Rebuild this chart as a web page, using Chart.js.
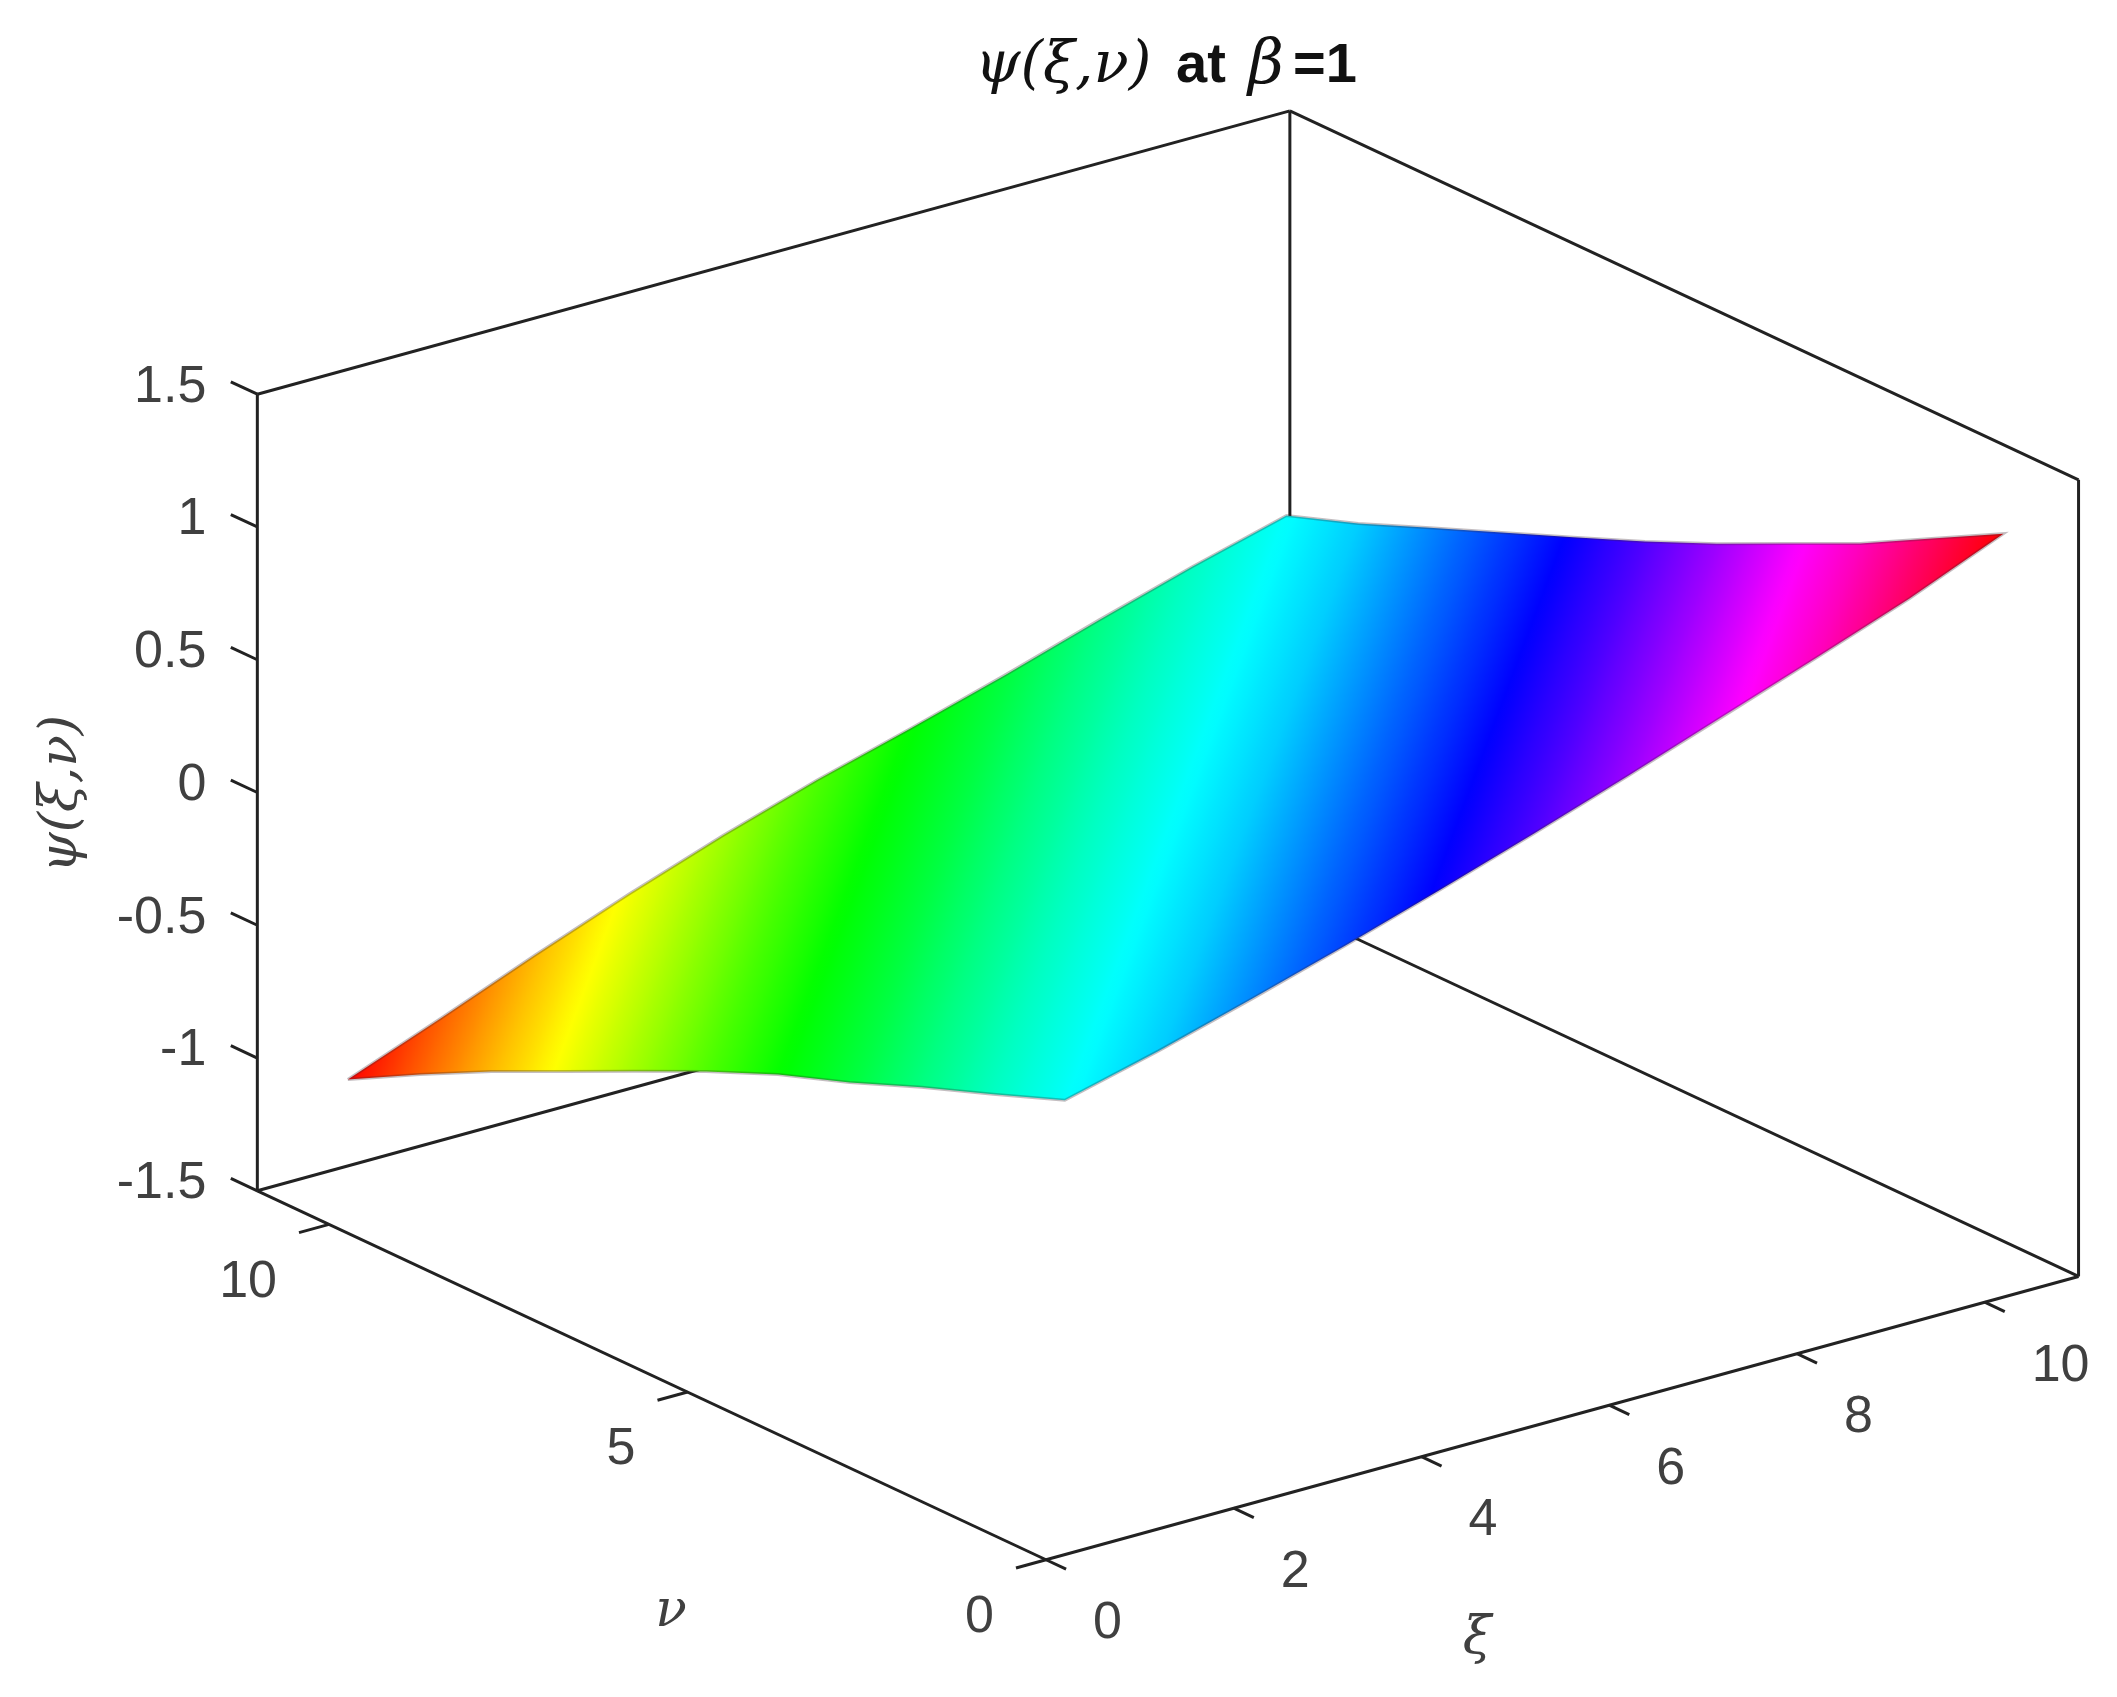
<!DOCTYPE html>
<html><head><meta charset="utf-8">
<script src="https://cdn.jsdelivr.net/npm/chart.js@4"></script>
<style>html,body{margin:0;padding:0;background:#fff}canvas{display:block}</style>
</head><body><canvas id="c" width="2117" height="1697"></canvas>
<script>
// ---- data ----
const nuSamples = [10, 9, 8, 7, 6, 5, 4, 3, 2, 1, 0];
const xiSamples = [0.2, 1.2, 2.2, 3.2, 4.2, 5.2, 6.2, 7.2, 8.2, 9.2, 10.2];
// psi along the four borders of the surface
const psiNearXi = [-0.974, -0.829, -0.691, -0.565, -0.438, -0.312, -0.197, -0.101, 0.007, 0.107, 0.211]; // xi = 0.2, by nuSamples
const psiFarXi = [0.180, 0.276, 0.387, 0.495, 0.604, 0.714, 0.832, 0.959, 1.085, 1.230, 1.375];          // xi = 10.2, by nuSamples
const psiHighNu = [-0.974, -0.838, -0.698, -0.565, -0.442, -0.331, -0.233, -0.130, -0.020, 0.085, 0.180]; // nu = 10, by xiSamples
const psiLowNu = [0.211, 0.300, 0.400, 0.505, 0.616, 0.731, 0.850, 0.975, 1.100, 1.228, 1.375];          // nu = 0, by xiSamples
const xiTicks = [0, 2, 4, 6, 8, 10];
const nuTicks = [0, 5, 10];
const psiTicks = [-1.5, -1, -0.5, 0, 0.5, 1, 1.5];
const xiRange = [0, 11];
const nuRange = [0, 11];
const psiRange = [-1.5, 1.5];

// ---- view of the 3-D box (orthographic) ----
const view = {ox: 1046, oy: 1561, xiDx: 94, xiDy: -25.8, nuDx: -71.8, nuDy: -33.6, psiDy: -266};
function project(xi, nu, psi) {
  return {x: view.ox + xi * view.xiDx + nu * view.nuDx,
          y: view.oy + xi * view.xiDy + nu * view.nuDy + (psi - psiRange[0]) * view.psiDy};
}
const seg = (a, b) => [project(...a), project(...b)];
const [x0, x1] = xiRange, [n0, n1] = nuRange, [p0, p1] = psiRange;
const boxLines = [
  seg([x0, n1, p0], [x0, n1, p1]), seg([x0, n1, p1], [x1, n1, p1]), seg([x1, n1, p1], [x1, n0, p1]),
  seg([x1, n0, p1], [x1, n0, p0]), seg([x1, n1, p1], [x1, n1, p0]), seg([x0, n1, p0], [x1, n1, p0]),
  seg([x1, n1, p0], [x1, n0, p0]), seg([x0, n0, p0], [x0, n1, p0]), seg([x0, n0, p0], [x1, n0, p0])
];
const tickLines = [
  ...psiTicks.map(p => seg([x0, n1, p], [x0, n1 + 0.37, p])),
  ...nuTicks.map(n => seg([x0, n, p0], [x0 - 0.32, n, p0])),
  ...xiTicks.map(x => seg([x, n0, p0], [x, n0 - 0.28, p0]))
];
const last = xiSamples.length - 1;
const edgeNearXi = nuSamples.map((n, i) => project(xiSamples[0], n, psiNearXi[i]));       // A -> B
const edgeLowNu = xiSamples.map((x, i) => project(x, nuSamples[last], psiLowNu[i]));      // B -> D
const edgeFarXi = nuSamples.map((n, i) => project(xiSamples[last], n, psiFarXi[i]));      // C -> D
const edgeHighNu = xiSamples.map((x, i) => project(x, nuSamples[0], psiHighNu[i]));       // A -> C
const surfaceOutline = [...edgeNearXi, ...edgeLowNu.slice(1), ...edgeFarXi.slice().reverse().slice(1), ...edgeHighNu.slice().reverse().slice(1)];

// MATLAB hsv colormap
function hsv(t) {
  const h = ((t % 1) + 1) % 1 * 6, i = Math.floor(h), f = h - i;
  const rgb = [[1, f, 0], [1 - f, 1, 0], [0, 1, f], [0, 1 - f, 1], [f, 0, 1], [1, 0, 1 - f]][i % 6];
  return `rgb(${rgb.map(v => Math.round(v * 255)).join(',')})`;
}
const psiMin = Math.min(...psiNearXi, ...psiFarXi);
const psiMax = Math.max(...psiNearXi, ...psiFarXi);
// Colour follows psi; iso-colour lines run along the (1,1) direction in (xi,nu).
function surfaceGradient(chart) {
  const sx = chart.scales.x, sy = chart.scales.y;
  if (!sx || !sy || !Number.isFinite(sx.getPixelForValue(0))) return '#00ffff';
  const px = p => ({x: sx.getPixelForValue(p.x), y: sy.getPixelForValue(p.y)});
  const dx = view.xiDx + view.nuDx, dy = view.xiDy + view.nuDy;
  const len = Math.hypot(dx, dy), nx = -dy / len, ny = dx / len;
  const A = px(edgeNearXi[0]), D = px(edgeFarXi[last]);
  const along = p => (p.x - A.x) * nx + (p.y - A.y) * ny;
  const total = along(D);
  const g = chart.ctx.createLinearGradient(A.x, A.y, A.x + nx * total, A.y + ny * total);
  const B = along(px(edgeNearXi[last])), C = along(px(edgeFarXi[0]));
  const chain = [
    ...edgeNearXi.slice(0, last).map((p, i) => [along(px(p)), psiNearXi[i]]),
    [(B + C) / 2, (psiNearXi[last] + psiFarXi[0]) / 2],
    ...edgeFarXi.slice(1).map((p, i) => [along(px(p)), psiFarXi[i + 1]])
  ];
  for (let i = 0; i < chain.length - 1; i++) {
    const a = chain[i][0] / total, b = chain[i + 1][0] / total;
    const pa = chain[i][1], pb = chain[i + 1][1];
    for (let k = 0; k <= 8; k++) {
      const u = k / 8, pos = a + (b - a) * u, psi = pa + (pb - pa) * u;
      g.addColorStop(Math.min(1, Math.max(0, pos)), hsv((psi - psiMin) / (psiMax - psiMin) * 0.9999));
    }
  }
  return g;
}

const lineStyle = {type: 'scatter', showLine: true, pointRadius: 0, borderColor: '#222', borderWidth: 3, fill: false, tension: 0, order: 2};
const datasets = [
  {type: 'scatter', showLine: true, label: 'psi', data: surfaceOutline, pointRadius: 0, order: 1, tension: 0,
   fill: 'shape', borderWidth: 3, borderColor: 'rgba(60,40,50,0.3)',
   backgroundColor: ctx => surfaceGradient(ctx.chart)},
  ...boxLines.map(d => ({...lineStyle, data: d})),
  ...tickLines.map(d => ({...lineStyle, data: d}))
];

const labelColor = '#404040';
const tickFont = '52px "Liberation Sans"';
const axisFont = 'italic 52px "DejaVu Serif"';
const labelsPlugin = {
  id: 'labels3d',
  afterDraw(chart) {
    const c = chart.ctx, sx = chart.scales.x, sy = chart.scales.y;
    const put = (txt, x, y, font, align, color, rot) => {
      c.save(); c.font = font; c.fillStyle = color; c.textAlign = align; c.textBaseline = 'middle';
      c.translate(x, y); if (rot) c.rotate(rot); c.fillText(txt, 0, 0); c.restore();
    };
    const at = (xi, nu, psi) => { const p = project(xi, nu, psi); return [sx.getPixelForValue(p.x), sy.getPixelForValue(p.y)]; };
    psiTicks.forEach(p => { const [x, y] = at(x0, n1, p); put(String(p), x - 51, y - 7, tickFont, 'right', labelColor); });
    nuTicks.forEach(n => { const [x, y] = at(x0, n, p0); put(String(n), x - 52, y + 58, tickFont, 'right', labelColor); });
    xiTicks.forEach(v => { const [x, y] = at(v, n0, p0); put(String(v), x + 47, y + 64, tickFont, 'left', labelColor); });
    put('ν', 671, 1612, axisFont, 'center', labelColor);
    put('ξ', 1477, 1639, axisFont, 'center', labelColor);
    put('ψ(ξ,ν)', 62, 794, axisFont, 'center', labelColor, -Math.PI / 2);
    // title
    const tItalic = 'italic 58px "DejaVu Serif"', tBold = 'bold 56px "Liberation Sans"';
    put('ψ(ξ,ν)', 975, 67, tItalic, 'left', '#111');
    put('at', 1176, 67, tBold, 'left', '#111');
    put('β', 1248, 67, 'italic 62px "DejaVu Serif"', 'left', '#111');
    put('=1', 1293, 67, tBold, 'left', '#111');
  }
};

const chart = new Chart(document.getElementById('c'), {
  type: 'scatter',
  data: {datasets},
  plugins: [labelsPlugin],
  options: {
    responsive: false, animation: false, devicePixelRatio: 1,
    layout: {padding: 0},
    plugins: {legend: {display: false}, tooltip: {enabled: false}, title: {display: false}},
    scales: {
      x: {type: 'linear', min: 0, max: 2117, display: false},
      y: {type: 'linear', min: 0, max: 1697, reverse: true, display: false}
    }
  }
});
chart.update();
</script></body></html>
